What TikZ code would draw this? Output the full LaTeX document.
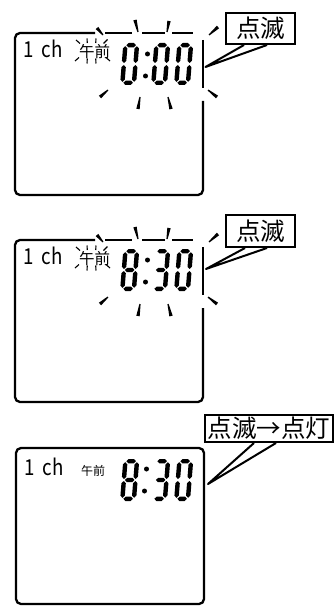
\documentclass[tikz,border=0pt]{standalone}
\usepackage{fontspec}
\newfontfamily\cjk{Noto Sans CJK JP}
\usetikzlibrary{calc}
\tikzset{
  lcdbox/.style={line width=2.3pt, line join=round},
  tick/.style={line width=1.1pt},
  callbox/.style={draw, line width=2pt, fill=white, inner sep=0pt, font=\cjk\fontsize{24.5}{24.5}\selectfont},
  wedge/.style={line width=2pt, line join=round},
  chfont/.style={inner sep=0pt, font=\cjk\fontsize{22}{22}\selectfont},
  amfont/.style={inner sep=0pt, font=\cjk\fontsize{15.5}{15.5}\selectfont},
}
\newcommand\lcdH[1]{\fill (3.2,#1) -- (5.4,#1+2.2) -- (10.6,#1+2.2) -- (12.8,#1) -- (10.6,#1-2.2) -- (5.4,#1-2.2) -- cycle;}
\newcommand\lcdV[3]{\fill (#1,#2+1) -- (#1+2.2,#2+3.2) -- (#1+2.2,#3-3.2) -- (#1,#3-1) -- (#1-2.2,#3-3.2) -- (#1-2.2,#2+3.2) -- cycle;}
\newcommand\lcdsega{\lcdH{39.8}}
\newcommand\lcdsegg{\lcdH{21}}
\newcommand\lcdsegd{\lcdH{2.2}}
\newcommand\lcdsegb{\lcdV{13.8}{21}{39.8}}
\newcommand\lcdsegc{\lcdV{13.8}{2.2}{21}}
\newcommand\lcdsege{\lcdV{2.2}{2.2}{21}}
\newcommand\lcdsegf{\lcdV{2.2}{21}{39.8}}
\newcommand\lcddigit[3]{\begin{scope}[shift={(#1,#2)}, xslant=0.08, y=1pt]
  \foreach \s in {#3} {\csname lcdseg\s\endcsname}
\end{scope}}
\newcommand\ray[2]{\fill ($(#1)!0.6pt!90:(#2)$) -- ($(#1)!0.6pt!-90:(#2)$) -- ($(#2)!1.7pt!90:(#1)$) -- ($(#2)!1.7pt!-90:(#1)$) -- cycle;}
\newcommand\chtext{\scalebox{0.85}[1]{1\hspace{0.45em}ch}}
\newcommand\blinkframe[1]{%
  \draw[lcdbox, rounded corners=5pt] (95,33) -- (15,33) -- (15,195) -- (203,195) -- (203,101);
  \draw[lcdbox] (105,33) -- (132,33) (142,33) -- (165,33) (172,33) -- (193,33) (203,40) -- (203,88);
  \ray{103,35}{97,28} \ray{138,32}{135,20} \ray{167,32}{169,21} \ray{209,35}{218,27}
  \ray{108,90}{100,97} \ray{140,97}{138,109} \ray{168,97}{171,109} \ray{208,90}{217,97}
  \draw[tick] (76,40)--(80,43.5) (87,38.5)--(87.3,43) (96,38.5)--(95.7,43) (103.5,43.5)--(107.5,39.5)
    (75,61)--(79,57.5) (87.3,58.5)--(87,63.5) (95.7,58.5)--(96,63.5) (106,57.5)--(110,61);
  \node[chfont, anchor=base west] (ch#1) at (23,57.5) {\chtext};
  \node[amfont] (am#1) at (94.5,51.5) {午前};
}
\begin{document}
\begin{tikzpicture}[x=1pt, y=-1pt]
\useasboundingbox (0,0) rectangle (334,607);
% panel 1
\blinkframe{1}
\lcddigit{120}{85}{a,b,c,d,e,f}
\fill (147.5,54) circle[radius=2.5pt] (145.5,76) circle[radius=2.5pt];
\lcddigit{151}{85}{a,b,c,d,e,f}
\lcddigit{174}{85}{a,b,c,d,e,f}
\node[callbox, minimum width=69pt, minimum height=31pt] (c1) at (260.5,28.5) {点滅};
\coordinate (t1) at (205.5,67);
\draw[wedge] ($(c1.south west)+(19,0)$) -- (t1) -- ($(c1.south west)+(42,0)$);
% panel 2
\begin{scope}[shift={(0,207)}]
\blinkframe{2}
\end{scope}
\lcddigit{120}{291}{a,b,c,d,e,f,g}
\fill (147.5,260) circle[radius=2.5pt] (145.5,282) circle[radius=2.5pt];
\lcddigit{151}{291}{a,b,c,d,g}
\lcddigit{174}{291}{a,b,c,d,e,f}
\node[callbox, minimum width=69pt, minimum height=32pt] (c2) at (260.5,231) {点滅};
\coordinate (t2) at (206,269);
\draw[wedge] ($(c2.south west)+(20,0)$) -- (t2) -- ($(c2.south west)+(42,0)$);
% panel 3
\draw[lcdbox, rounded corners=5pt] (16,448) rectangle (204,604);
\node[chfont, anchor=base west] (ch3) at (24,475) {\chtext};
\node[amfont, font=\cjk\fontsize{12}{12}\selectfont] (am3) at (93,471) {午前};
\lcddigit{120}{501}{a,b,c,d,e,f,g}
\fill (146.5,469) circle[radius=2.5pt] (144.5,491) circle[radius=2.5pt];
\lcddigit{151}{501}{a,b,c,d,g}
\lcddigit{174}{501}{a,b,c,d,e,f}
\node[callbox, minimum width=128pt, minimum height=27pt] (c3) at (269,428.5) {点滅→点灯};
\coordinate (t3) at (208,484);
\draw[wedge] ($(c3.south west)+(50,0)$) -- (t3) -- ($(c3.south west)+(72,0)$);
\end{tikzpicture}
\end{document}
